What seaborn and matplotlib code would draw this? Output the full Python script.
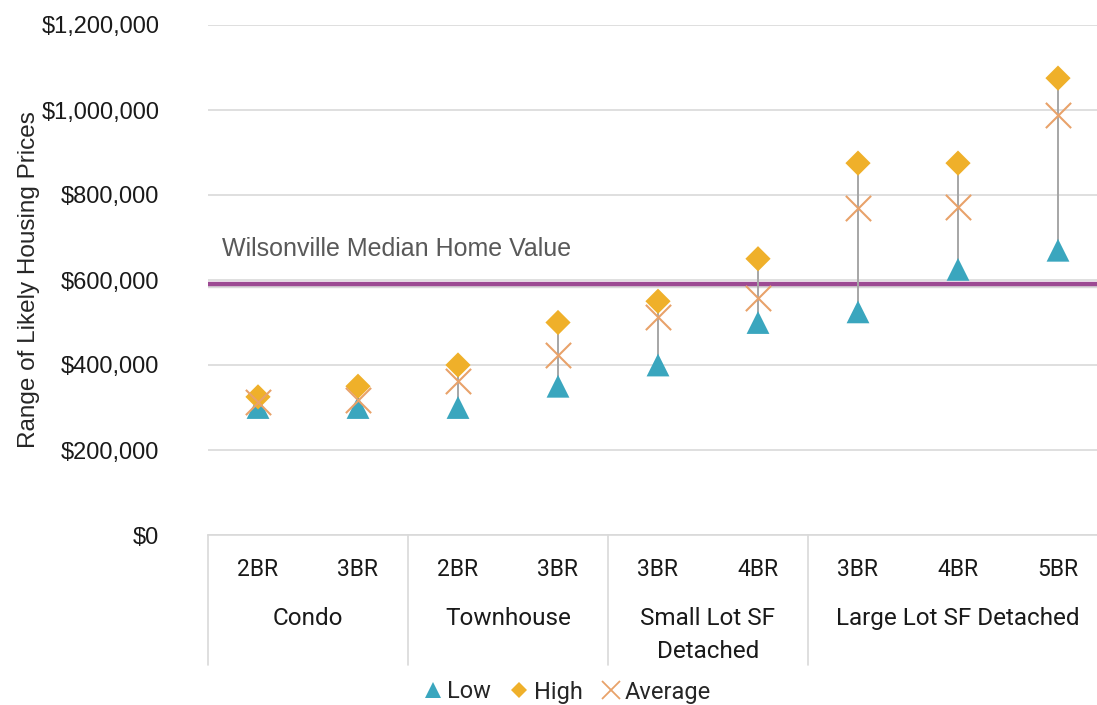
import matplotlib
matplotlib.use("Agg")
import matplotlib.pyplot as plt
import matplotlib.patheffects as pe
from matplotlib.lines import Line2D
from matplotlib.ticker import FuncFormatter, MultipleLocator
import seaborn as sns
import pandas as pd

# Housing price ranges by product type and bedroom count
groups = ["Condo", "Townhouse", "Small Lot SF\nDetached", "Large Lot SF Detached"]
group_sizes = [2, 2, 2, 3]
bedrooms = ["2BR", "3BR", "2BR", "3BR", "3BR", "4BR", "3BR", "4BR", "5BR"]
low = [300000, 300000, 300000, 350000, 400000, 500000, 525000, 625000, 670000]
high = [325000, 350000, 400000, 500000, 550000, 650000, 875000, 875000, 1075000]
average = [312000, 318000, 363000, 424000, 513000, 558000, 770000, 772000, 988000]
median_home_value = 590000

TEAL = "#3AA6BE"
GOLD = "#EFB02A"
ORANGE = "#E8A26A"
STEM = "#A6A6A6"
PURPLE = "#9C4A93"
GRID = "#D9D9D9"

sns.set_theme(style="white")
plt.rcParams["font.family"] = ["Liberation Sans", "DejaVu Sans"]
NARROW = ["Roboto", "DejaVu Sans"]

pos = list(range(len(bedrooms)))
df = pd.DataFrame({"pos": pos, "Low": low, "High": high, "Average": average})

fig = plt.figure(figsize=(10.97, 7.05), dpi=100)
ax = fig.add_axes([208 / 1097, 1 - 535 / 705, 900 / 1097, 510 / 705])

# gridlines
ax.set_ylim(0, 1200000)
ax.set_xlim(-0.5, len(bedrooms) - 0.5)
ax.yaxis.set_major_locator(MultipleLocator(200000))
ax.yaxis.grid(True, color=GRID, linewidth=1.2)
ax.set_axisbelow(True)
for s in ["top", "right", "left"]:
    ax.spines[s].set_visible(False)
ax.spines["bottom"].set_color(GRID)
ax.spines["bottom"].set_linewidth(1.2)

# median reference line with soft shadow
ax.axhline(median_home_value, color=PURPLE, linewidth=3.2, zorder=2,
           path_effects=[pe.SimpleLineShadow(offset=(0, -1.5), shadow_color="#888888", alpha=0.3),
                         pe.Normal()])
ax.text(-0.36, 673000, "Wilsonville Median Home Value",
        color="#595959", fontsize=18, va="center", ha="left")

# high-low stems
ax.vlines(df["pos"], df["Low"], df["High"], color=STEM, linewidth=1.4, zorder=3)

sns.scatterplot(data=df, x="pos", y="Low", marker="^", s=270, color=TEAL,
                edgecolor="none", ax=ax, zorder=4, legend=False)
sns.scatterplot(data=df, x="pos", y="High", marker="D", s=165, color=GOLD,
                edgecolor="none", ax=ax, zorder=5, legend=False)
sns.scatterplot(data=df, x="pos", y="Average", marker="x", s=330, color=ORANGE,
                linewidth=1.5, ax=ax, zorder=6, legend=False)

ax.set_xlabel("")
ax.set_ylabel("Range of Likely Housing Prices", fontsize=17.5, color="#262626", labelpad=1)
ax.yaxis.set_major_formatter(FuncFormatter(lambda v, _: f"${v:,.0f}"))
ax.tick_params(axis="y", labelsize=17, colors="#1a1a1a", length=0, pad=35)

# category axis: bedroom labels, group labels, separators
ax.set_xticks(pos)
ax.set_xticklabels([])
ax.tick_params(axis="x", length=0)
xt = ax.get_xaxis_transform()
for p, b in zip(pos, bedrooms):
    ax.text(p, -35 / 510, b, transform=xt, ha="center", va="center",
            fontsize=16.5, family=NARROW, color="#1a1a1a")
start = 0
bounds = [-0.5]
for g, n in zip(groups, group_sizes):
    center = start + (n - 1) / 2
    ax.text(center, -72 / 510, g, transform=xt, ha="center", va="top",
            fontsize=17.5, family=NARROW, color="#1a1a1a", linespacing=1.55)
    start += n
    bounds.append(start - 0.5)
for b in bounds:
    ax.add_line(Line2D([b, b], [0, -130 / 510], transform=xt, color=GRID,
                       linewidth=1.2, clip_on=False))

# legend
handles = [
    Line2D([], [], marker="^", linestyle="none", color=TEAL, markersize=11, markeredgewidth=0),
    Line2D([], [], marker="D", linestyle="none", color=GOLD, markersize=8, markeredgewidth=0),
    Line2D([], [], marker="x", linestyle="none", color=ORANGE, markersize=13, markeredgewidth=1.3),
]
fig.legend(handles, ["Low", "High", "Average"], loc="center", ncol=3,
           bbox_to_anchor=(565 / 1097, 1 - 692 / 705), frameon=False,
           handletextpad=0.0, columnspacing=0.6, handlelength=1.2,
           prop={"family": NARROW, "size": 17})

fig.savefig("out.png", dpi=100)
